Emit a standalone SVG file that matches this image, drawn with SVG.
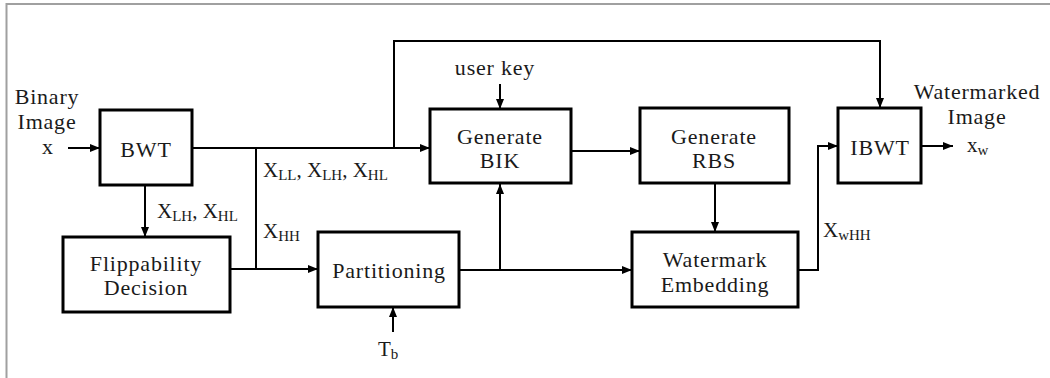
<svg xmlns="http://www.w3.org/2000/svg" width="1050" height="378" viewBox="0 0 1050 378">
<style>
.box{fill:#fff;stroke:#000;stroke-width:3}
.t{font-family:"Liberation Serif","Times New Roman",serif;font-size:22px;fill:#1a1a1a;text-anchor:middle;letter-spacing:0.8px}
.l{font-family:"Liberation Serif","Times New Roman",serif;font-size:21px;fill:#1a1a1a}
.s{font-size:15px}
.c{fill:none;stroke:#000;stroke-width:2}
</style>
<defs>
<marker id="ah" markerUnits="userSpaceOnUse" markerWidth="10" markerHeight="10" viewBox="0 0 10 10" refX="10" refY="5" orient="auto">
<path d="M0,1 L10,5 L0,9 Z" fill="#000"/>
</marker>
</defs>
<rect width="1050" height="378" fill="#fff"/>
<path d="M6.5,378 V4 H1050" fill="none" stroke="#a0a0a0" stroke-width="2"/>

<g id="connectors">
<path class="c" d="M68,148 H100" marker-end="url(#ah)"/>
<path class="c" d="M192,148 H430" marker-end="url(#ah)"/>
<path class="c" d="M256,148 V269"/>
<path class="c" d="M230,269 H318" marker-end="url(#ah)"/>
<path class="c" d="M145,185 V237" marker-end="url(#ah)"/>
<path class="c" d="M394,148 V41 H880 V108" marker-end="url(#ah)"/>
<path class="c" d="M500,84 V109" marker-end="url(#ah)"/>
<path class="c" d="M571,151 H640" marker-end="url(#ah)"/>
<path class="c" d="M459,270 H500" stroke-width="3"/>
<path class="c" d="M500,270 V184" marker-end="url(#ah)"/>
<path class="c" d="M500,270 H632" marker-end="url(#ah)"/>
<path class="c" d="M393,332 V307" marker-end="url(#ah)"/>
<path class="c" d="M715,183 V232" marker-end="url(#ah)"/>
<path class="c" d="M798,270 H818 V146 H838" marker-end="url(#ah)"/>
<path class="c" d="M921,146 H953" marker-end="url(#ah)"/>
</g>

<g id="input">
<text class="t" x="47" y="104">Binary</text>
<text class="t" x="47" y="129">Image</text>
<text class="t" x="48" y="154">x</text>
</g>

<g id="bwt">
<rect class="box" x="100" y="110" width="92" height="75"/>
<text class="t" x="146" y="157">BWT</text>
</g>

<g id="flippability">
<rect class="box" x="63" y="237" width="167" height="75"/>
<text class="t" x="146" y="271">Flippability</text>
<text class="t" x="146" y="295">Decision</text>
</g>

<g id="partitioning">
<rect class="box" x="318" y="232" width="141" height="75"/>
<text class="t" x="389" y="278">Partitioning</text>
</g>

<g id="generate-bik">
<rect class="box" x="430" y="109" width="141" height="74"/>
<text class="t" x="500" y="144">Generate</text>
<text class="t" x="500" y="168">BIK</text>
</g>

<g id="generate-rbs">
<rect class="box" x="640" y="108" width="149" height="75"/>
<text class="t" x="714" y="144">Generate</text>
<text class="t" x="714" y="168">RBS</text>
</g>

<g id="watermark-embedding">
<rect class="box" x="632" y="232" width="166" height="75"/>
<text class="t" x="715" y="267">Watermark</text>
<text class="t" x="715" y="292">Embedding</text>
</g>

<g id="ibwt">
<rect class="box" x="838" y="108" width="83" height="75"/>
<text class="t" x="880" y="155">IBWT</text>
</g>

<g id="output">
<text class="t" x="977" y="99">Watermarked</text>
<text class="t" x="977" y="124">Image</text>
<text class="l" x="967" y="152">x<tspan class="s" dy="3">w</tspan></text>
</g>

<g id="labels">
<text class="t" x="495" y="75">user key</text>
<text class="l" x="263" y="177">X<tspan class="s" dy="3">LL</tspan><tspan dy="-3">, X</tspan><tspan class="s" dy="3">LH</tspan><tspan dy="-3">, X</tspan><tspan class="s" dy="3">HL</tspan></text>
<text class="l" x="263" y="238">X<tspan class="s" dy="3">HH</tspan></text>
<text class="l" x="157" y="218">X<tspan class="s" dy="3">LH</tspan><tspan dy="-3">, X</tspan><tspan class="s" dy="3">HL</tspan></text>
<text class="l" x="823" y="237">X<tspan class="s" dy="3">wHH</tspan></text>
<text class="l" x="378" y="356">T<tspan class="s" dy="3">b</tspan></text>
</g>
</svg>
